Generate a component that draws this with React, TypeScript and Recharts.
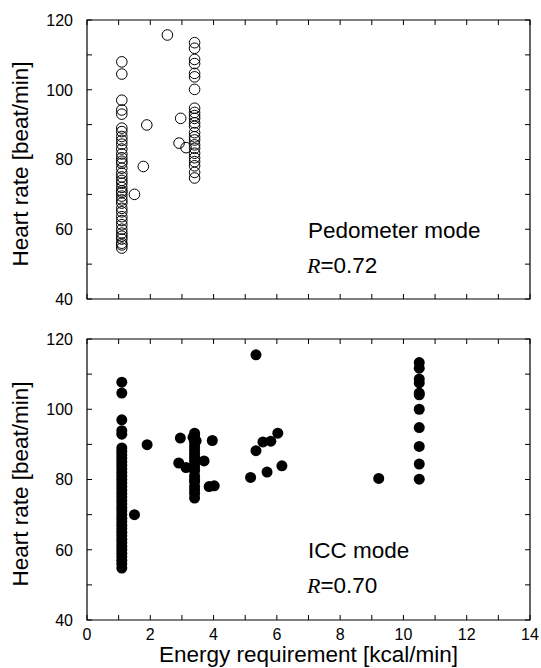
import React from "react"
import { ScatterChart, Scatter, XAxis, YAxis, ReferenceArea } from "recharts"

// x-axis and y-axis ticks (minor every 1 / 10, labels on even / multiples of 20)
const xTicks = [0, 1, 2, 3, 4, 5, 6, 7, 8, 9, 10, 11, 12, 13, 14]
const yTicks = [40, 50, 60, 70, 80, 90, 100, 110, 120]

// Pedometer mode
const pedLowX = 1.1
const pedLowY = [
  108, 104.5, 97, 94.2, 93, 89, 88, 86.6, 85.5, 84.4, 83, 81.6, 80.5, 79.5, 78.9, 77.5, 76.1, 75, 74,
  73.2, 72, 71, 70.5, 69.5, 68.4, 67.5, 66, 65, 63.6, 62.5, 61.3, 60, 58.9, 58, 57.2, 56, 55.5, 54.6,
]
const pedHighX = 3.4
const pedHighY = [
  113.5, 111.9, 108.7, 107.5, 104.7, 103.7, 100.1, 94.7, 93.5, 92.6, 91.8, 90.5, 89.5, 87.7, 86.5,
  85.6, 84.2, 83.2, 81.8, 80.5, 79.4, 78.2, 76.3, 74.7,
]
const pedOtherX = [2.54, 1.5, 1.78, 1.89, 2.96, 2.91, 3.13]
const pedOtherY = [115.7, 70, 78, 89.9, 91.8, 84.7, 83.4]

// ICC mode
const iccLowX = 1.1
const iccLowY = [
  107.7, 104.6, 97, 93.9, 92.9, 89, 88, 87, 86, 85, 84, 83, 82, 81, 80, 79, 78, 77, 76, 75, 74, 73,
  72, 71, 70, 69, 68, 67, 66, 65, 64, 63, 62, 61, 60, 59, 58, 57, 56, 54.8,
]
const iccMidX = 3.4
const iccMidY = [
  93.2, 92.5, 91.5, 90.5, 89.5, 88.5, 87.5, 86.5, 85.5, 84.5, 83.5, 82.5, 81, 80, 79.3, 78, 77, 76,
  74.7,
]
const iccHighX = 10.5
const iccHighY = [113.3, 111.7, 108.6, 107.5, 104.6, 104.1, 100, 94.8, 89.4, 84.4, 80.1]
const iccOtherX = [
  1.5, 1.9, 2.95, 2.9, 3.13, 3.35, 3.45, 3.7, 3.96, 3.86, 4.02, 5.17, 5.34, 5.34, 5.56, 5.81, 6.03,
  5.69, 6.16, 9.22,
]
const iccOtherY = [
  70, 89.9, 91.8, 84.7, 83.4, 92, 91, 85.3, 91.1, 78, 78.2, 80.6, 88.2, 115.5, 90.7, 90.9, 93.2,
  82.1, 83.9, 80.3,
]

const pedData = [
  ...pedLowY.map((y) => ({ x: pedLowX, y })),
  ...pedHighY.map((y) => ({ x: pedHighX, y })),
  ...pedOtherX.map((x, i) => ({ x, y: pedOtherY[i] })),
]
const iccData = [
  ...iccLowY.map((y) => ({ x: iccLowX, y })),
  ...iccMidY.map((y) => ({ x: iccMidX, y })),
  ...iccHighY.map((y) => ({ x: iccHighX, y })),
  ...iccOtherX.map((x, i) => ({ x, y: iccOtherY[i] })),
]

const FONT = "'Liberation Sans', Arial, Helvetica, sans-serif"
const PL = 87
const PR = 530
const TICK = 5

function makeXTick(top: number, bottom: number, labels: boolean) {
  return (p: any) => {
    const x = p.x
    const v = p.payload.value
    return (
      <g>
        <line x1={x} x2={x} y1={bottom - TICK} y2={bottom} stroke="#000" />
        <line x1={x} x2={x} y1={top} y2={top + TICK} stroke="#000" />
        {labels && v % 2 === 0 && (
          <text x={x} y={bottom + 20} textAnchor="middle" fontSize={16} fontFamily={FONT} fill="#000">
            {v}
          </text>
        )}
      </g>
    )
  }
}

const yTick = (p: any) => {
  const y = p.y
  const v = p.payload.value
  return (
    <g>
      <line x1={PL} x2={PL + TICK} y1={y} y2={y} stroke="#000" />
      <line x1={PR - TICK} x2={PR} y1={y} y2={y} stroke="#000" />
      {v % 20 === 0 && (
        <text x={PL - 14} y={y} dy="0.36em" textAnchor="end" fontSize={16} fontFamily={FONT} fill="#000">
          {v}
        </text>
      )}
    </g>
  )
}

const yTitle = (cy: number) => () => (
  <text
    x={28}
    y={cy}
    transform={`rotate(-90 28 ${cy})`}
    textAnchor="middle"
    fontSize={22.5}
    fontFamily={FONT}
    fill="#000"
  >
    Heart rate [beat/min]
  </text>
)

const openDot = (p: any) => <circle cx={p.cx} cy={p.cy} r={5.3} fill="none" stroke="#000" strokeWidth={1} />
const filledDot = (p: any) => <circle cx={p.cx} cy={p.cy} r={5.5} fill="#000" />

function Panel({
  data,
  height,
  xAxisHeight,
  plotBottom,
  labels,
  shape,
  titleY,
}: {
  data: { x: number; y: number }[]
  height: number
  xAxisHeight: number
  plotBottom: number
  labels: boolean
  shape: (p: any) => React.ReactElement
  titleY: number
}) {
  return (
    <ScatterChart width={541} height={height} margin={{ top: 20, right: 11, bottom: 0, left: 0 }}>
      <XAxis
        type="number"
        dataKey="x"
        domain={[0, 14]}
        ticks={xTicks}
        interval={0}
        height={xAxisHeight}
        axisLine={false}
        tickLine={false}
        tick={makeXTick(20, plotBottom, labels)}
        allowDataOverflow
        label={
          labels
            ? {
                content: () => (
                  <text x={308.5} y={plotBottom + 42} textAnchor="middle" fontSize={22.5} fontFamily={FONT} fill="#000">
                    Energy requirement [kcal/min]
                  </text>
                ),
              }
            : undefined
        }
      />
      <YAxis
        type="number"
        dataKey="y"
        domain={[40, 120]}
        ticks={yTicks}
        interval={0}
        width={87}
        axisLine={false}
        tickLine={false}
        tick={yTick}
        allowDataOverflow
        label={{ content: yTitle(titleY) }}
      />
      <ReferenceArea x1={0} x2={14} y1={40} y2={120} fill="none" stroke="#000" strokeWidth={1.2} strokeOpacity={1} fillOpacity={0} />
      <Scatter data={data} shape={shape} isAnimationActive={false} />
    </ScatterChart>
  )
}

export default function App() {
  const textStyle = { fontFamily: FONT, fontSize: 22.5, fill: "#000" }
  const rStyle = { fontFamily: "'Liberation Serif', 'Times New Roman', serif", fontStyle: "italic" as const, fontSize: 22 }
  return (
    <div style={{ position: "absolute", left: 0, top: 0, width: 541, height: 668, background: "#fff" }}>
      <div style={{ position: "absolute", left: 0, top: 0 }}>
        <Panel data={pedData} height={310} xAxisHeight={11} plotBottom={299} labels={false} shape={openDot} titleY={164} />
      </div>
      <div style={{ position: "absolute", left: 0, top: 319 }}>
        <Panel data={iccData} height={349} xAxisHeight={48} plotBottom={301} labels={true} shape={filledDot} titleY={165} />
      </div>
      <svg width={541} height={668} style={{ position: "absolute", left: 0, top: 0, pointerEvents: "none" }}>
        <text x={308} y={238} style={textStyle}>
          Pedometer mode
        </text>
        <text x={307} y={273} style={textStyle}>
          <tspan style={rStyle}>R</tspan>=0.72
        </text>
        <text x={308} y={558} style={textStyle}>
          ICC mode
        </text>
        <text x={307} y={593} style={textStyle}>
          <tspan style={rStyle}>R</tspan>=0.70
        </text>
      </svg>
    </div>
  )
}
